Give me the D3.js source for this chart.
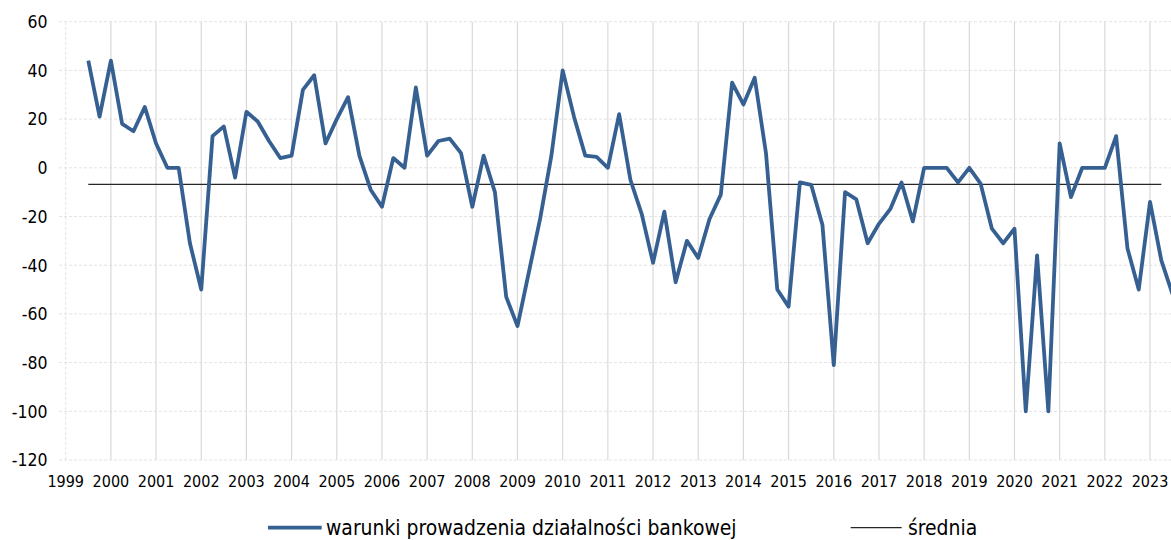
<!DOCTYPE html>
<html><head><meta charset="utf-8">
<script src="https://cdn.jsdelivr.net/npm/d3@7"></script>
<style>
body{margin:0;background:#fff;overflow:hidden}
text{font-family:"DejaVu Sans Condensed","DejaVu Sans",sans-serif;fill:#000}
</style></head><body>
<svg id="c" width="1171" height="540"></svg>
<script>
// quarterly observations, starting 1999 Q3 (position 1999.5)
const startYear = 1999.5;
const values = [44,21,44,18,15,25,10,0,0,-31,-50,13,17,-4,23,19,11,4,5,32,38,10,20,29,5,-9,-16,4,0,33,5,11,12,6,-16,5,-10,-53,-65,-43,-21,5,40,21,5,4.5,0,22,-5,-19,-39,-18,-47,-30,-37,-21,-11,35,26,37,6,-50,-57,-6,-7,-23.5,-81,-10,-13,-31,-23,-17,-6,-22,0,0,0,-6,0,-6.5,-25,-31,-25,-100,-36,-100,10,-12,0,0,0,13,-33,-50,-14,-38,-52];
const meanValue = -6.8;
const meanEnd = 2023.25;
const years = d3.range(1999, 2024);
const yTicks = [60,40,20,0,-20,-40,-60,-80,-100,-120];
const seriesName = "warunki prowadzenia działalności bankowej";
const meanName = "średnia";

const svg = d3.select("#c");
const x = d3.scaleLinear().domain([1999, 2024]).range([65.7, 65.7 + 25*45.18]);
const y = d3.scaleLinear().domain([-120, 60]).range([460, 21.7]);

const data = values.map((v,i)=>({t:startYear + i*0.25, v}));

// horizontal gridlines (dashed)
svg.append("g").selectAll("line").data(yTicks).join("line")
  .attr("x1", 59).attr("x2", 1171)
  .attr("y1", d=>y(d)).attr("y2", d=>y(d))
  .attr("stroke", "#e3e3e3").attr("stroke-width", 1).attr("stroke-dasharray", "3,2");

// vertical gridlines
svg.append("g").selectAll("line").data(years).join("line")
  .attr("x1", d=>x(d)).attr("x2", d=>x(d))
  .attr("y1", y(60)).attr("y2", y(-120))
  .attr("stroke", d=> d===1999 ? "#e6e6e6" : "#d9d9d9").attr("stroke-width", 1.2)
  .attr("stroke-dasharray", d=> d===1999 ? "3,2" : null);

// y labels
svg.append("g").selectAll("text").data(yTicks).join("text")
  .attr("x", 47.5).attr("y", d=>y(d)).attr("dy","0.36em")
  .attr("text-anchor","end").attr("font-size", 17.5).text(d=>d);

// x labels
svg.append("g").selectAll("text").data(years).join("text")
  .attr("x", d=>x(d)).attr("y", 481).attr("dy","0.36em")
  .attr("text-anchor","middle").attr("font-size", 16).text(d=>d);

// mean line
svg.append("path")
  .datum([{t:startYear, v:meanValue},{t:meanEnd, v:meanValue}])
  .attr("d", d3.line().x(d=>x(d.t)).y(d=>y(d.v)))
  .attr("stroke","#262626").attr("stroke-width",1.3).attr("fill","none");

// series line
svg.append("path").datum(data)
  .attr("d", d3.line().x(d=>x(d.t)).y(d=>y(d.v)))
  .attr("stroke","#366092").attr("stroke-width",3.8).attr("fill","none")
  .attr("stroke-linejoin","round");

// legend
const lg = svg.append("g");
lg.append("line").attr("x1",268).attr("x2",321.7).attr("y1",527.7).attr("y2",527.7)
  .attr("stroke","#366092").attr("stroke-width",3.8);
lg.append("text").attr("x",326).attr("y",527.5).attr("dy","0.36em").attr("font-size",20.9).text(seriesName);
lg.append("line").attr("x1",850.7).attr("x2",901.7).attr("y1",527.7).attr("y2",527.7)
  .attr("stroke","#262626").attr("stroke-width",1.3);
lg.append("text").attr("x",908).attr("y",527.5).attr("dy","0.36em").attr("font-size",20.9).text(meanName);
</script>
</body></html>
